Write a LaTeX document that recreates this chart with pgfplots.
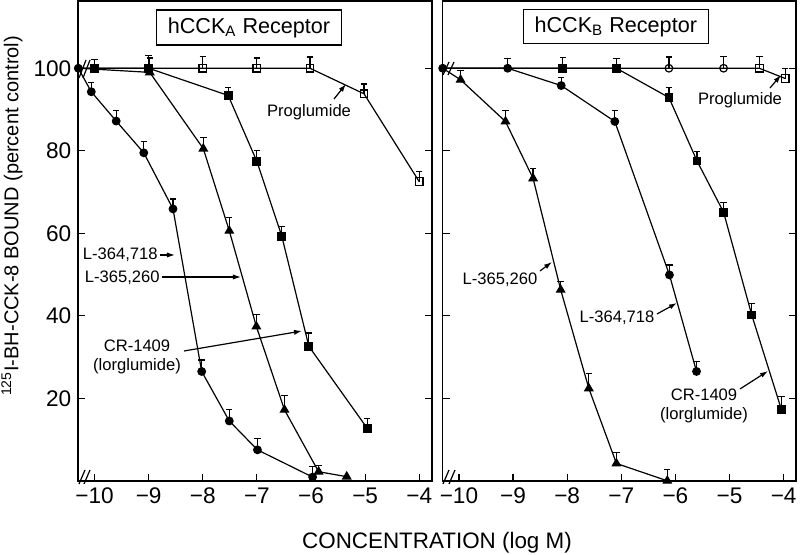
\documentclass[border=0pt]{standalone}
\usepackage{fontspec}
\setmainfont{Liberation Sans}
\usepackage{pgfplots}
\pgfplotsset{compat=1.18}
\usepackage{pgfplotstable}
\usetikzlibrary{arrows.meta}

% x = log concentration, y = percent of control, e = upper error
% hCCK-A panel
\pgfplotstableread{
x y e
-10.3 100 0
-10.06 94.3 2.3
-9.6 87.2 2.6
-9.09 79.5 2.7
-8.55 65.9 2.4
-8.02 26.5 2.8
-7.51 14.5 2.7
-6.99 7.5 2.8
-5.97 0.9 2.5
}\AcircA
\pgfplotstableread{
x y e
-10.3 100 0
-8.98 99 3.5
-7.99 80.5 2.8
-7.51 60.6 3.2
-7.01 37.4 3.0
-6.49 17.2 3.4
-5.86 2.2 1.5
-5.34 1.0 0
}\AtriA
\pgfplotstableread{
x y e
-10.3 100 0
-10.0 100 2.2
-9.0 100 3.0
-7.53 93.4 2.0
-7.0 77.4 2.7
-6.54 59.3 2.4
-6.04 32.6 3.2
-4.96 12.7 2.4
}\AsqA
\pgfplotstableread{
x y e
-10.3 100 0
-8.0 100 2.8
-7.0 100 2.5
-6.02 100 2.7
-5.02 93.8 2.4
-4.0 72.5 2.4
}\AproA
% hCCK-B panel
\pgfplotstableread{
x y e
-10.3 100 0
-9.1 100 2.4
-8.11 95.8 2.0
-7.12 87.1 2.6
-6.11 49.9 2.4
-5.61 26.5 2.4
}\BcircA
\pgfplotstableread{
x y e
-10.3 100 0
-9.97 97.2 2.3
-9.14 87.1 2.6
-8.63 73.3 2.4
-8.12 46.3 2.0
-7.6 22.4 3.6
-7.09 4.2 2.6
-6.15 0 2.7
}\BtriA
\pgfplotstableread{
x y e
-10.3 100 0
-8.08 100 2.6
-7.09 100 2.4
-6.12 92.9 2.4
-5.6 77.5 2.4
-5.11 65.1 2.4
-4.59 40.2 2.8
-4.04 17.2 3.2
}\BsqA
\pgfplotstableread{
x y e
-10.3 100 0
-6.12 100 2.7
-5.11 100 2.8
-4.45 100 2.8
-3.97 97.5 2.5
}\BproA

\pgfplotsset{
  panel/.style={
    scale only axis, width=176.7pt, height=239.9pt,
    xmin=-10.3, xmax=-3.77, ymin=0, ymax=116.3,
    axis line style={line width=0.8pt},
    tick align=inside, major tick length=3.5pt,
    tick style={line width=0.6pt, black},
    xtick={-10,-9,-8,-7,-6,-5,-4},
    xticklabels={−10,−9,−8,−7,−6,−5,−4},
    xtick pos=left, ytick pos=both,
    ytick={20,40,60,80,100},
    ticklabel style={font=\fontsize{11.3}{12}\selectfont},
    /pgf/number format/assume math mode=true,
    clip=false,
  },
  ser/.style={black, line width=0.6pt, mark phase=2,
    error bars/y dir=plus, error bars/y explicit,
    error bars/error bar style={line width=0.6pt},
    error bars/error mark options={rotate=90, mark size=1.6pt, line width=0.6pt}},
}

\begin{document}
\begin{tikzpicture}
\begin{axis}[panel]
\addplot[ser, mark=square*, mark options={mark size=1.9pt}] table[y error=e] {\AsqA};
\addplot[ser, mark=square, mark options={mark size=1.9pt, fill=white}] table[y error=e] {\AproA};
\addplot[ser, mark=triangle*, mark options={mark size=2.3pt}] table[y error=e] {\AtriA};
\addplot[ser, mark=*, mark options={mark size=1.9pt}] table[y error=e] {\AcircA};
\addplot[only marks, black, mark=*, mark options={mark size=2pt}] coordinates {(-10.3,100)};
\end{axis}

\begin{axis}[panel, at={(182.2pt,0pt)}, yticklabels={}]
\addplot[ser, mark=square*, mark options={mark size=1.9pt}] table[y error=e] {\BsqA};
\addplot[ser, mark=none] table[y error=e] {\BproA};
\addplot[only marks, black, mark=o, mark options={mark size=1.9pt, fill=white, line width=0.6pt}] coordinates {(-6.12,100) (-5.11,100)};
\addplot[only marks, black, mark=square, mark options={mark size=1.9pt, fill=white, line width=0.6pt}] coordinates {(-4.45,100) (-3.97,97.5)};
\addplot[ser, mark=triangle*, mark options={mark size=2.3pt}] table[y error=e] {\BtriA};
\addplot[ser, mark=*, mark options={mark size=1.9pt}] table[y error=e] {\BcircA};
\addplot[only marks, black, mark=*, mark options={mark size=2pt}] coordinates {(-10.3,100)};
\end{axis}

% annotations, placed in pixel units of the 800x555 frame
\begin{scope}[x=0.5pt, y=-0.5pt, shift={(-39.15pt,240.4pt)},
  ann/.style={font=\fontsize{8.3}{9.5}\selectfont, inner sep=0pt},
  arr/.style={line width=0.6pt, -{Latex[length=4pt,width=2.6pt]}}]
\node[draw, line width=0.6pt, minimum width=92.5pt, minimum height=17.5pt, inner sep=0pt,
  font=\fontsize{10.8}{12}\selectfont] at (249,27.5) {hCCK\textsubscript{A} Receptor};
\node[draw, line width=0.6pt, minimum width=92.5pt, minimum height=17pt, inner sep=0pt,
  font=\fontsize{10.8}{12}\selectfont] at (615.8,26.5) {hCCK\textsubscript{B} Receptor};

\node[ann] at (309,112) {Proglumide};
\draw[arr] (334,99) -- (346,84);
\node[ann, anchor=east] at (158,255) {L-364,718};
\draw[arr] (160,255) -- (175,255);
\node[ann, anchor=east] at (160,278) {L-365,260};
\draw[arr] (162,277) -- (241,277);
\node[ann, align=center] at (137,357) {CR-1409\\(lorglumide)};
\draw[arr] (184,351) -- (302,331);

\node[ann] at (740,100) {Proglumide};
\draw[arr] (770,88) -- (781,75);
\node[ann] at (500,280) {L-365,260};
\draw[arr] (540,271) -- (552,262);
\node[ann] at (617,318) {L-364,718};
\draw[arr] (657,314) -- (677,303);
\node[ann, align=center] at (704,406) {CR-1409\\(lorglumide)};
\draw[arr] (740,389) -- (768,371);

% axis breaks
\draw[line width=0.6pt] (79,484) -- (85,470) (84,484) -- (90,470);
\draw[line width=0.6pt] (79,78) -- (86,60) (83,78) -- (90,60);
\draw[line width=0.6pt] (443,484) -- (449,470) (449,484) -- (455,470);
\draw[line width=0.6pt] (443,75) -- (449,62) (448,75) -- (454,62);

\node[rotate=90, font=\fontsize{10}{12}\selectfont] at (12,216)
  {\textsuperscript{125}I-BH-CCK-8 BOUND (percent control)};
\node[font=\fontsize{11.2}{12}\selectfont] at (437,543) {CONCENTRATION (log M)};

\pgfresetboundingbox
\path[use as bounding box] (0,0) rectangle (800,555);
\end{scope}
\end{tikzpicture}
\end{document}
